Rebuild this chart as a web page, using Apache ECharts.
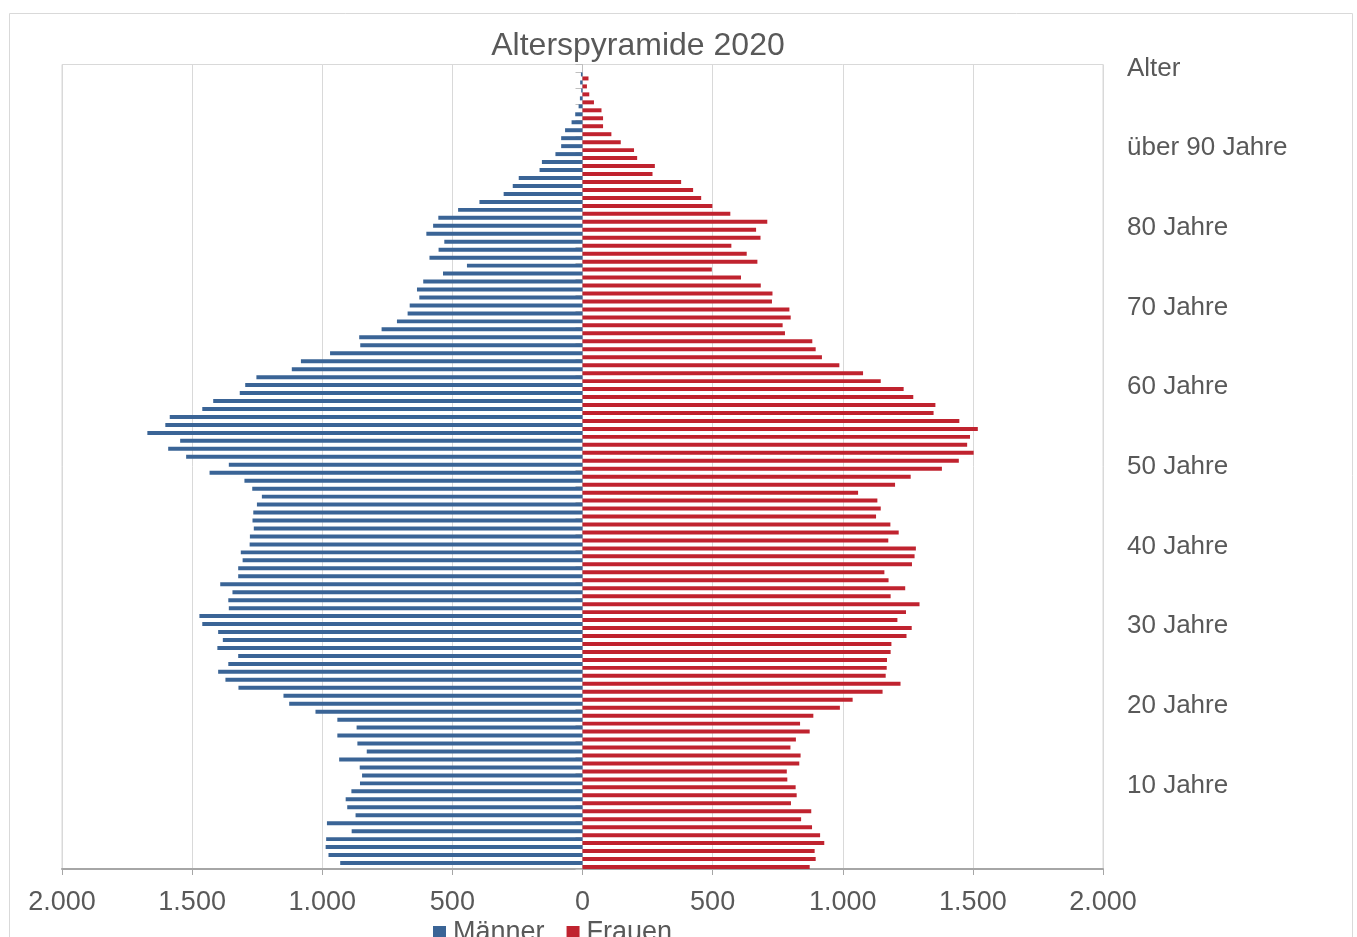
<!DOCTYPE html>
<html>
<head>
<meta charset="utf-8">
<script src="https://cdn.jsdelivr.net/npm/echarts@6/dist/echarts.min.js"></script>
<style>
  html, body { margin: 0; padding: 0; background: #fff; }
  #chart { width: 1357px; height: 937px; }
</style>
</head>
<body>
<div id="chart"></div>
<script>
// Alter 0..100 (100 = Zeile "Alter")
const ages = [
  0, 1, 2, 3, 4, 5, 6, 7, 8, 9, 10, 11, 12, 13, 14, 15, 16, 17, 18, 19,
  20, 21, 22, 23, 24, 25, 26, 27, 28, 29, 30, 31, 32, 33, 34, 35, 36, 37, 38, 39,
  40, 41, 42, 43, 44, 45, 46, 47, 48, 49, 50, 51, 52, 53, 54, 55, 56, 57, 58, 59,
  60, 61, 62, 63, 64, 65, 66, 67, 68, 69, 70, 71, 72, 73, 74, 75, 76, 77, 78, 79,
  80, 81, 82, 83, 84, 85, 86, 87, 88, 89, 90, 91, 92, 93, 94, 95, 96, 97, 98, 99, 100
]

// Männer, Alter 0..100
const maenner = [
  931, 976, 987, 985, 887, 982, 872, 904, 910, 888,
  855, 847, 856, 935, 829, 865, 942, 868, 942, 1026,
  1127, 1149, 1322, 1372, 1400, 1361, 1323, 1403, 1382, 1400,
  1461, 1472, 1359, 1361, 1345, 1392, 1323, 1323, 1306, 1313,
  1279, 1278, 1263, 1268, 1265, 1251, 1232, 1269, 1299, 1433,
  1359, 1523, 1592, 1546, 1672, 1603, 1586, 1461, 1419, 1317,
  1296, 1253, 1117, 1082, 970, 854, 858, 772, 713, 672,
  664, 627, 636, 612, 536, 444, 588, 553, 531, 600,
  574, 554, 478, 396, 303, 268, 245, 165, 156, 104,
  82, 82, 67, 42, 28, 15, 10, 5, 9, 6, 0
]

// Frauen, Alter 0..100
const frauen = [
  873, 896, 892, 929, 913, 882, 840, 879, 801, 823,
  819, 787, 785, 833, 838, 799, 820, 873, 836, 887,
  989, 1038, 1153, 1222, 1165, 1169, 1170, 1184, 1187, 1245,
  1265, 1210, 1243, 1295, 1184, 1240, 1176, 1160, 1266, 1276,
  1281, 1175, 1215, 1183, 1128, 1146, 1133, 1059, 1201, 1261,
  1381, 1446, 1503, 1478, 1489, 1519, 1448, 1349, 1356, 1271,
  1234, 1146, 1078, 987, 920, 896, 883, 778, 769, 800,
  795, 728, 730, 685, 609, 497, 672, 631, 572, 684,
  667, 710, 568, 499, 456, 425, 379, 269, 278, 210,
  198, 147, 111, 79, 79, 73, 44, 26, 17, 23, 0
]

// Beschriftung rechts
const ageLabels = {
  10: '10 Jahre', 20: '20 Jahre', 30: '30 Jahre', 40: '40 Jahre',
  50: '50 Jahre', 60: '60 Jahre', 70: '70 Jahre', 80: '80 Jahre',
  90: 'über 90 Jahre', 100: 'Alter'
}

const font = 'Liberation Sans, Arial, sans-serif'
const textColor = '#595959'

function fmt(v) {
  const n = Math.abs(v)
  return n >= 1000 ? Math.floor(n / 1000) + '.' + String(n % 1000).padStart(3, '0') : String(n)
}

const chart = echarts.init(document.getElementById('chart'))

chart.setOption({
  animation: false,
  textStyle: { fontFamily: font },
  title: {
    text: 'Alterspyramide 2020',
    left: 633,
    top: 25,
    textAlign: 'center',
    textStyle: { fontSize: 32, fontWeight: 'normal', color: textColor, fontFamily: font }
  },
  graphic: [{
    type: 'rect',
    shape: { x: 9.5, y: 13.5, width: 1343, height: 940 },
    style: { fill: 'none', stroke: '#d9d9d9', lineWidth: 1 },
    silent: true
  }],
  legend: {
    data: ['Männer', 'Frauen'],
    left: 433,
    top: 919,
    padding: 0,
    itemWidth: 13,
    itemHeight: 13,
    itemGap: 22,
    icon: 'rect',
    textStyle: { fontSize: 27, color: textColor, fontFamily: font, padding: [0, 0, 0, 2] }
  },
  grid: {
    left: 62,
    right: 254,
    top: 64.5,
    bottom: 68,
    show: true,
    borderColor: '#d9d9d9',
    borderWidth: 1
  },
  xAxis: {
    type: 'value',
    min: -2000,
    max: 2000,
    interval: 500,
    axisLine: { show: true, onZero: false, lineStyle: { color: '#a6a6a6', width: 2 } },
    axisTick: { show: true, length: 6, lineStyle: { color: '#a6a6a6' } },
    axisLabel: { fontSize: 27, color: textColor, margin: 20, formatter: fmt },
    splitLine: { lineStyle: { color: '#d9d9d9' } }
  },
  yAxis: [{
    type: 'category',
    data: ages,
    axisLine: { show: true, onZero: true, lineStyle: { color: '#bfbfbf' } },
    axisTick: { show: true, length: 7, lineStyle: { color: '#bfbfbf' } },
    axisLabel: { show: false },
    splitLine: { show: false }
  }, {
    type: 'category',
    data: ages,
    position: 'right',
    axisLine: { show: false, onZero: false },
    axisTick: { show: false },
    axisLabel: {
      interval: 0,
      margin: 24,
      fontSize: 26,
      color: textColor,
      formatter: function(v) { return ageLabels[v] || '' }
    },
    splitLine: { show: false }
  }],
  series: [{
    name: 'Männer',
    type: 'bar',
    yAxisIndex: 0,
    data: maenner.map(v => -v),
    barGap: '0%',
    barCategoryGap: '0%',
    itemStyle: { color: '#3a6496' }
  }, {
    name: 'Frauen',
    type: 'bar',
    yAxisIndex: 0,
    data: frauen,
    barGap: '0%',
    barCategoryGap: '0%',
    itemStyle: { color: '#c0232f' }
  }]
})
</script>
</body>
</html>
